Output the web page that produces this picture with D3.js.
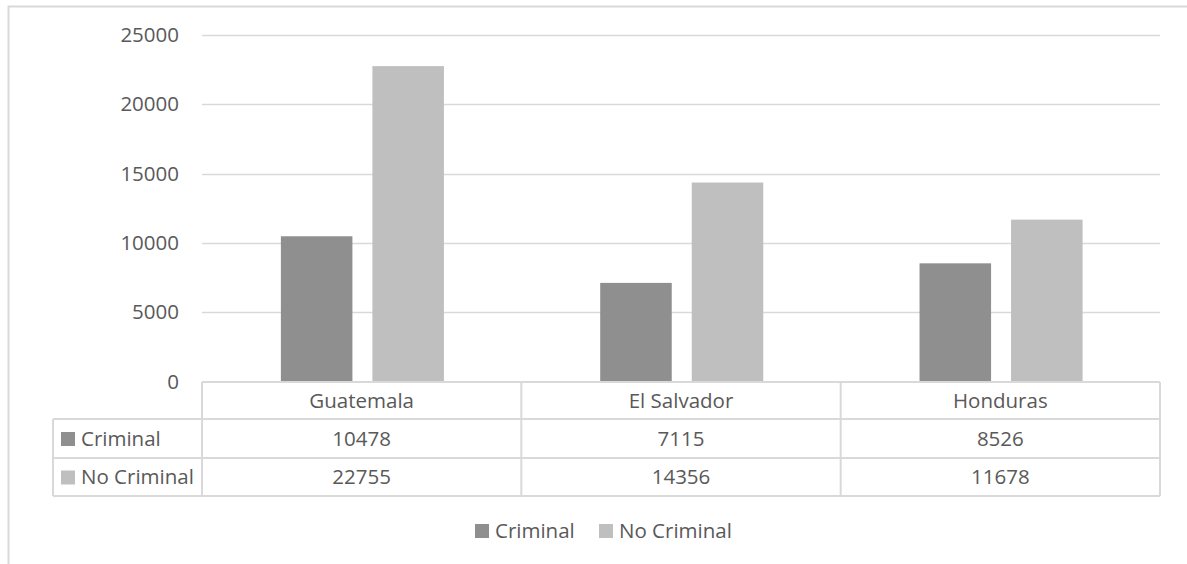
<!DOCTYPE html>
<html><head><meta charset="utf-8">
<script src="https://cdn.jsdelivr.net/npm/d3@7"></script>
<style>
html,body{margin:0;padding:0;background:#fff;}
svg{display:block;font-family:"Open Sans",sans-serif;}
</style></head>
<body>
<svg id="chart" width="1187" height="564"></svg>
<script>
const categories = ["Guatemala", "El Salvador", "Honduras"];
const seriesNames = ["Criminal", "No Criminal"];
const criminal = [10478, 7115, 8526];
const noCriminal = [22755, 14356, 11678];
const yTicks = [0, 5000, 10000, 15000, 20000, 25000];
const seriesColors = ["#8f8f8f", "#bfbfbf"];
const seriesValues = [criminal, noCriminal];

const svg = d3.select("#chart");
const gridColor = "#d9d9d9";
const textColor = "#595959";
const fontSize = 20.5;

const plotLeft = 202, plotRight = 1160, plotTop = 35, plotBottom = 381.5;

// outer border (right/bottom off-canvas)
svg.append("rect").attr("x", 8.5).attr("y", 6.5).attr("width", 1300).attr("height", 700)
  .attr("fill", "none").attr("stroke", gridColor).attr("stroke-width", 2);

const x0 = d3.scaleBand().domain(categories).range([plotLeft, plotRight]).padding(0);
const bw = x0.bandwidth();
const x1 = d3.scaleBand().domain(seriesNames)
  .range([bw * 0.247, bw * 0.247 + bw * 0.224 * 2 + bw * 0.0626])
  .paddingInner(0.0626 / (0.224 + 0.0626)).paddingOuter(0);
const y = d3.scaleLinear().domain([0, 25000]).range([plotBottom, plotTop]);

// gridlines
svg.append("g").selectAll("line").data(yTicks.filter(d => d > 0)).join("line")
  .attr("x1", plotLeft).attr("x2", plotRight)
  .attr("y1", d => Math.round(y(d)) + 0.5).attr("y2", d => Math.round(y(d)) + 0.5)
  .attr("stroke", gridColor).attr("stroke-width", 1.5);

// y labels
svg.append("g").selectAll("text").data(yTicks).join("text")
  .attr("x", 179).attr("y", d => y(d)).attr("dy", "0.35em")
  .attr("text-anchor", "end").attr("fill", textColor).attr("font-size", fontSize)
  .text(d => d);

// bars
const groups = svg.append("g").selectAll("g").data(categories).join("g")
  .attr("transform", c => `translate(${x0(c)},0)`);
groups.selectAll("rect").data((c, i) => seriesNames.map((s, j) => ({s, v: seriesValues[j][i], j})))
  .join("rect")
  .attr("x", d => x1(d.s)).attr("width", x1.bandwidth())
  .attr("y", d => y(d.v)).attr("height", d => y(0) - y(d.v))
  .attr("fill", d => seriesColors[d.j]);

// data table
const rowY = [382, 419, 458, 496];
const tableLeft = 53;
const tg = svg.append("g").attr("stroke", gridColor).attr("stroke-width", 2).attr("fill", "none");
tg.append("line").attr("x1", plotLeft).attr("x2", plotRight).attr("y1", rowY[0]).attr("y2", rowY[0]);
for (let k = 1; k < rowY.length; k++) {
  tg.append("line").attr("x1", tableLeft).attr("x2", plotRight).attr("y1", rowY[k]).attr("y2", rowY[k]);
}
tg.append("line").attr("x1", tableLeft).attr("x2", tableLeft).attr("y1", rowY[1]).attr("y2", rowY[3]);
const vx = categories.map(c => x0(c)).concat([plotRight]);
vx.forEach(xv => tg.append("line").attr("x1", xv).attr("x2", xv).attr("y1", rowY[0]).attr("y2", rowY[3]));

// category labels
svg.append("g").selectAll("text").data(categories).join("text")
  .attr("x", c => x0(c) + bw / 2).attr("y", (rowY[0] + rowY[1]) / 2).attr("dy", "0.35em")
  .attr("text-anchor", "middle").attr("fill", textColor).attr("font-size", fontSize).text(c => c);

// rows
seriesNames.forEach((s, j) => {
  const cy = (rowY[j + 1] + rowY[j + 2]) / 2;
  svg.append("rect").attr("x", 61).attr("y", cy - 6.5).attr("width", 14).attr("height", 14)
    .attr("fill", seriesColors[j]);
  svg.append("text").attr("x", 81).attr("y", cy).attr("dy", "0.35em")
    .attr("fill", textColor).attr("font-size", fontSize).text(s);
  svg.append("g").selectAll("text").data(seriesValues[j]).join("text")
    .attr("x", (d, i) => x0(categories[i]) + bw / 2).attr("y", cy).attr("dy", "0.35em")
    .attr("text-anchor", "middle").attr("fill", textColor).attr("font-size", fontSize).text(d => d);
});

// legend
const legendX = [475, 599];
seriesNames.forEach((s, j) => {
  svg.append("rect").attr("x", legendX[j]).attr("y", 524).attr("width", 14).attr("height", 14)
    .attr("fill", seriesColors[j]);
  svg.append("text").attr("x", legendX[j] + 20).attr("y", 531).attr("dy", "0.35em")
    .attr("fill", textColor).attr("font-size", fontSize).text(s);
});
</script>
</body></html>
